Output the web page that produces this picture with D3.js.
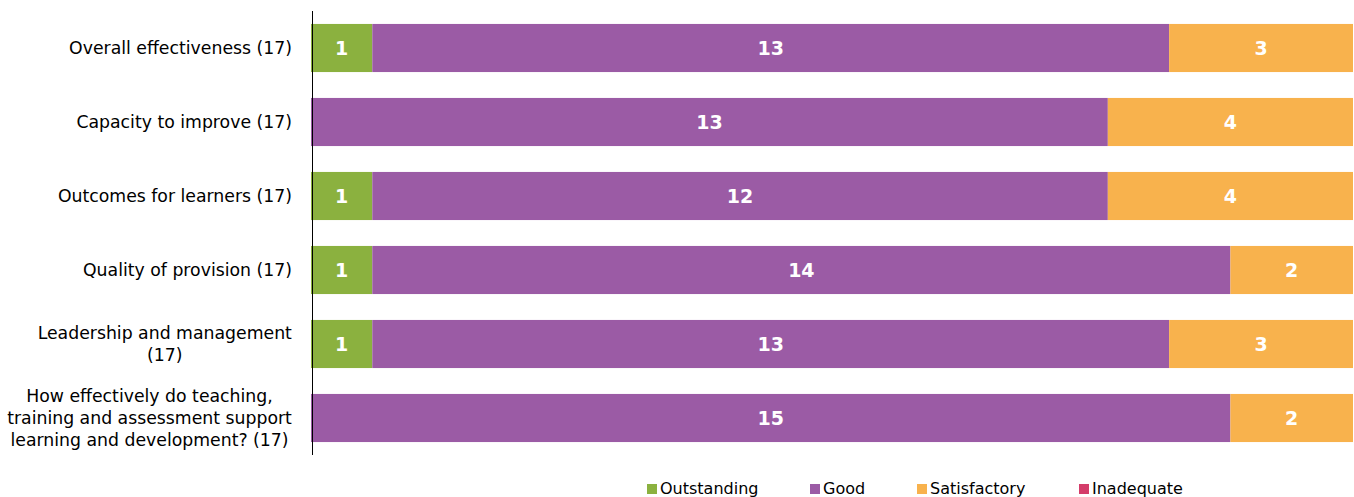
<!DOCTYPE html>
<html><head><meta charset="utf-8">
<script src="https://cdn.jsdelivr.net/npm/d3@7"></script>
<style>body{margin:0;background:#fff;overflow:hidden}</style>
</head><body>
<svg id="c" width="1354" height="497"></svg>
<script>
const categories = [
  ["Overall effectiveness (17)"],
  ["Capacity to improve (17)"],
  ["Outcomes for learners (17)"],
  ["Quality of provision (17)"],
  ["Leadership and management", "(17)"],
  ["How effectively do teaching,", "training and assessment support", "learning and development? (17)"]
];
const seriesNames = ["Outstanding", "Good", "Satisfactory", "Inadequate"];
const outstanding = [1, 0, 1, 1, 1, 0];
const good = [13, 13, 12, 14, 13, 15];
const satisfactory = [3, 4, 4, 2, 3, 2];
const inadequate = [0, 0, 0, 0, 0, 0];
const colors = ["#8BB13F", "#9B5BA5", "#F8B24D", "#D43D6A"];

const svg = d3.select("#c");
const font = "DejaVu Sans, sans-serif";
const x = d3.scaleLinear().domain([0, 17]).range([311, 1353]);
const y = d3.scaleBand().domain(d3.range(categories.length)).range([11, 455]).paddingInner(0.35).paddingOuter(0.175);

const rows = categories.map((c, i) => ({i, Outstanding: outstanding[i], Good: good[i], Satisfactory: satisfactory[i], Inadequate: inadequate[i]}));
const stack = d3.stack().keys(seriesNames)(rows);

stack.forEach((s, k) => {
  const g = svg.append("g");
  s.forEach((d, i) => {
    if (d[1] - d[0] <= 0) return;
    g.append("rect").attr("x", x(d[0])).attr("y", y(i)).attr("width", x(d[1]) - x(d[0])).attr("height", y.bandwidth()).attr("fill", colors[k]);
    g.append("text").attr("x", (x(d[0]) + x(d[1])) / 2).attr("y", y(i) + y.bandwidth() / 2).attr("dy", "0.36em")
      .attr("text-anchor", "middle").attr("fill", "#fff").attr("font-weight", "bold").attr("font-family", font).attr("font-size", 19)
      .text(d[1] - d[0]);
  });
});

// axis line
svg.append("line").attr("x1", 312.5).attr("x2", 312.5).attr("y1", 11).attr("y2", 455).attr("stroke", "#000").attr("stroke-width", 1);

// category labels
categories.forEach((lines, i) => {
  const cx = 292;
  const lh = 22;
  const cy = y(i) + y.bandwidth() / 2;
  const t = svg.append("text").attr("font-family", font).attr("font-size", 17.3).attr("fill", "#000").attr("text-anchor", lines.length > 1 ? "middle" : "end");
  lines.forEach((l, j) => {
    t.append("tspan").attr("x", lines.length > 1 ? 0 : cx).attr("y", cy + (j - (lines.length - 1) / 2) * lh).attr("dy", "0.36em").text(l);
  });
  if (lines.length > 1) {
    const w = t.node().getBBox().width;
    t.selectAll("tspan").attr("x", cx - w / 2);
  }
});

// legend
const legX = [647, 810, 917, 1079];
seriesNames.forEach((n, k) => {
  svg.append("rect").attr("x", legX[k]).attr("y", 484).attr("width", 10).attr("height", 10).attr("fill", colors[k]);
  svg.append("text").attr("x", legX[k] + 13).attr("y", 488).attr("dy", "0.36em").attr("font-family", font).attr("font-size", 16).attr("fill", "#000").text(n);
});
</script>
</body></html>
